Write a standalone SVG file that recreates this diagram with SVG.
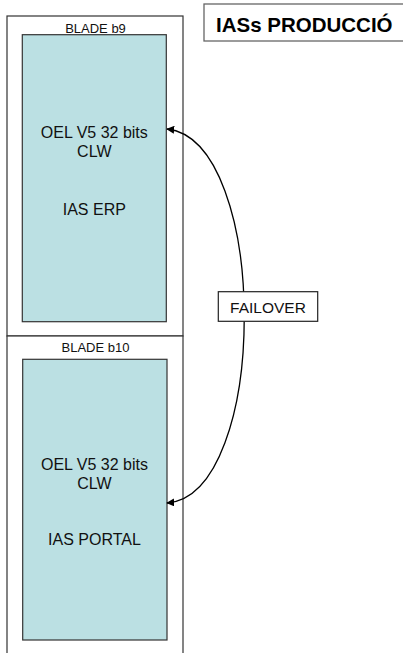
<svg xmlns="http://www.w3.org/2000/svg" width="403" height="653" viewBox="0 0 403 653">
<style>
.blade{fill:#fff;stroke:#333;stroke-width:1.2}
.inner{fill:#BBE0E3;stroke:#333;stroke-width:1.2}
.lbl{font-family:"Liberation Sans",Arial,sans-serif;font-size:13px;fill:#111;text-anchor:middle}
.txt{font-family:"Liberation Sans",Arial,sans-serif;font-size:16px;fill:#111;text-anchor:middle}
.title{font-family:"Liberation Sans",Arial,sans-serif;font-size:20.5px;font-weight:bold;fill:#000}
.conn{fill:none;stroke:#000;stroke-width:1.3}
</style>
<defs>
<marker id="ah" viewBox="0 0 10 10" refX="9" refY="5" markerWidth="8" markerHeight="8" markerUnits="userSpaceOnUse" orient="auto-start-reverse">
<path d="M0,0 L10,5 L0,10 z" fill="#000"/>
</marker>
</defs>
<g id="title">
<rect x="204" y="4" width="205" height="37" fill="#fff" stroke="#666" stroke-width="1.3"/>
<text class="title" x="216" y="32">IASs PRODUCCIÓ</text>
</g>
<g id="blade-b9">
<rect class="blade" x="7" y="16" width="176" height="320"/>
<text class="lbl" x="95.5" y="33">BLADE b9</text>
<rect class="inner" x="22.3" y="34.7" width="144" height="287"/>
<text class="txt" x="94.3" y="138.3">OEL V5 32 bits</text>
<text class="txt" x="94.3" y="157.3">CLW</text>
<text class="txt" x="94.3" y="214.5">IAS ERP</text>
</g>
<g id="blade-b10">
<rect class="blade" x="7" y="336" width="176" height="330"/>
<text class="lbl" x="95.5" y="352.3">BLADE b10</text>
<rect class="inner" x="22.7" y="359.3" width="144.3" height="280.7"/>
<text class="txt" x="94.5" y="470">OEL V5 32 bits</text>
<text class="txt" x="94.5" y="489">CLW</text>
<text class="txt" x="94.5" y="545">IAS PORTAL</text>
</g>
<g id="connectors">
<path class="conn" d="M167,129 C270,140 270,495 167,503" marker-start="url(#ah)" marker-end="url(#ah)"/>
</g>
<g id="failover">
<rect x="218.3" y="291.7" width="99.4" height="29.6" fill="#fff" stroke="#222" stroke-width="1.2"/>
<text class="txt" x="268" y="312.5" style="font-size:15.5px">FAILOVER</text>
</g>
</svg>
